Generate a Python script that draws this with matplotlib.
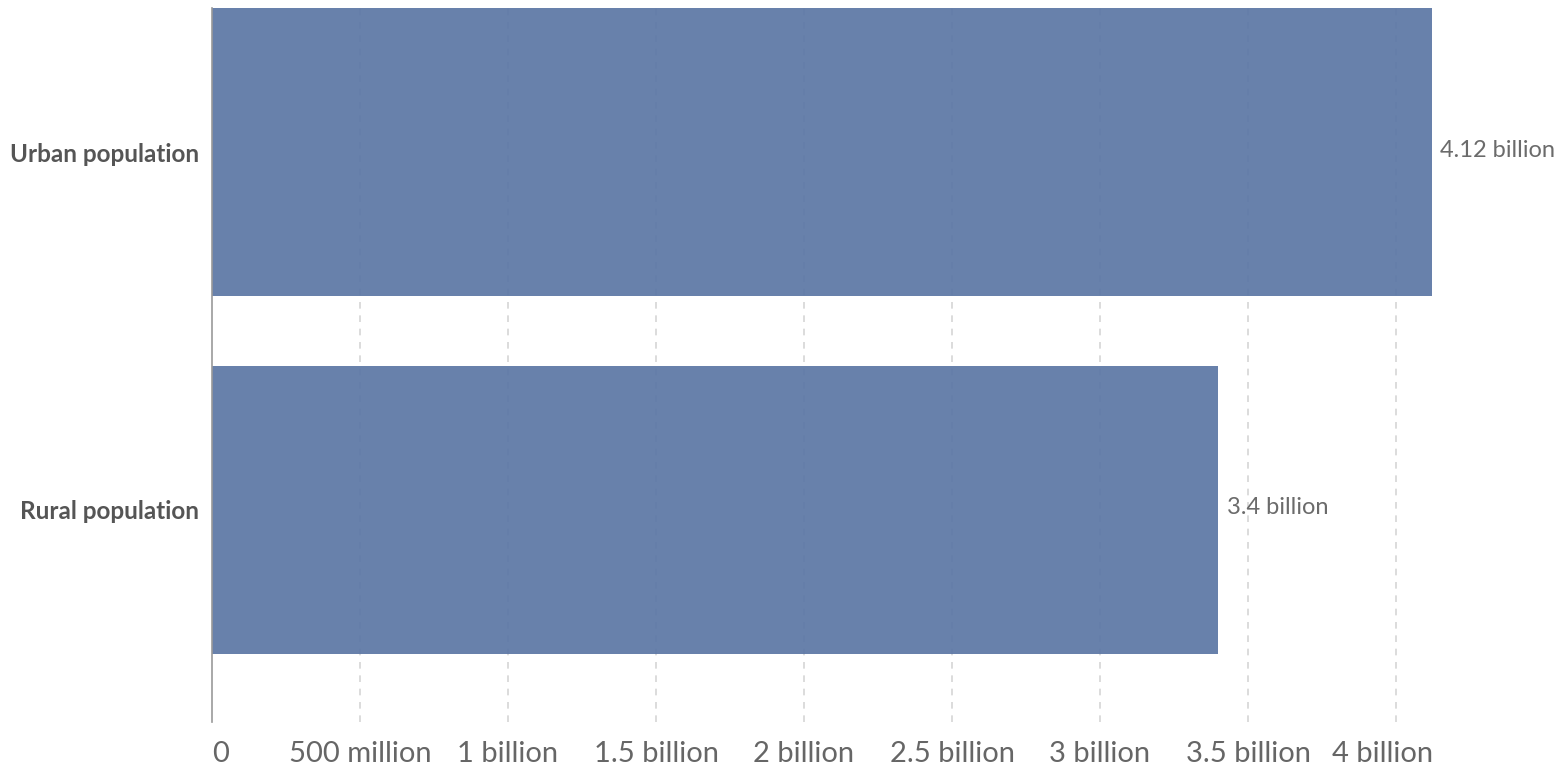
import matplotlib.pyplot as plt
import matplotlib.transforms as mtransforms
import numpy as np

# population by area type
categories = ["Rural population", "Urban population"]
population = [3.40e9, 4.12e9]
value_labels = ["3.4 billion", "4.12 billion"]
tick_values = [0, 0.5e9, 1e9, 1.5e9, 2e9, 2.5e9, 3e9, 3.5e9, 4e9]
tick_labels = ["0", "500 million", "1 billion", "1.5 billion", "2 billion",
               "2.5 billion", "3 billion", "3.5 billion", "4 billion"]

plt.rcParams['font.family'] = ['Lato', 'DejaVu Sans']

fig = plt.figure(figsize=(15.64, 7.67), dpi=100)
ax = fig.add_axes([212/1564, 45/767, 1221/1564, 714/767])

# dashed grid first, bars slightly see-through on top of it
for v in tick_values[1:]:
    ax.axvline(v, color="#d6d6d6", lw=1.2, ls=(0, (4, 4)), zorder=1)

ypos = np.arange(len(categories))
ax.barh(ypos, population, height=0.806, color="#5c77a5", alpha=0.93, zorder=2)

for y, v, lab in zip(ypos, population, value_labels):
    ax.text(v + 0.03e9, y + 0.005, lab, va="center", ha="left", fontsize=17, color="#6b6b6b")

ax.set_xlim(0, 4.125e9)
ax.set_ylim(-0.594, 1.403)
ax.set_yticks(ypos)
ax.set_yticklabels(categories, fontsize=17.5, fontweight="bold", color="#555555")
ax.set_xticks(tick_values)
ax.set_xticklabels(tick_labels[:-1] + [""], fontsize=21, color="#666666")
ax.get_xticklabels()[0].set_ha("left")
ax.tick_params(axis="x", length=0, pad=14)
ax.tick_params(axis="y", length=0, pad=9)

# last tick label is pushed in to end at the right edge of the plot
trans = ax.transAxes + mtransforms.ScaledTranslation(0, -14/72, fig.dpi_scale_trans)
ax.text(1.0, 0.0, tick_labels[-1], transform=trans, ha="right", va="top",
        fontsize=21, color="#666666")

for s in ["top", "right", "bottom"]:
    ax.spines[s].set_visible(False)
ax.spines["left"].set_color("#999999")
ax.spines["left"].set_linewidth(1.2)

fig.savefig("out.png", dpi=100)
